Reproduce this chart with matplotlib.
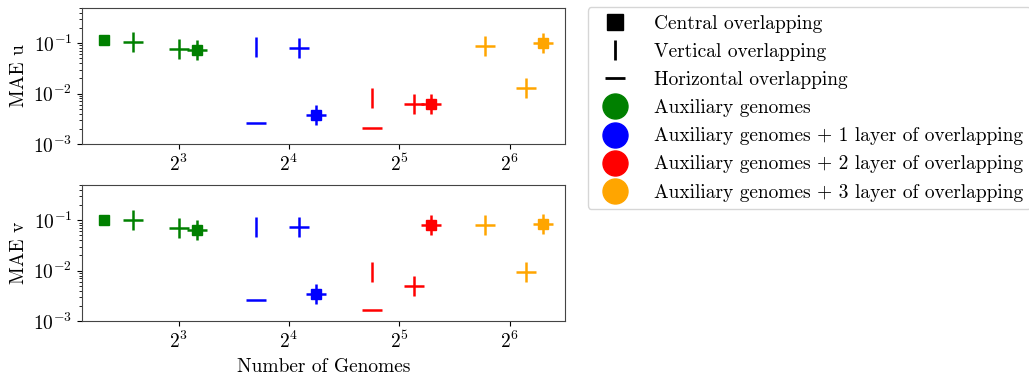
import matplotlib
matplotlib.use("Agg")
import matplotlib.pyplot as plt
from matplotlib.lines import Line2D

plt.rcParams["font.family"] = "serif"
plt.rcParams["font.serif"] = ["cmr10"]
plt.rcParams["mathtext.fontset"] = "cm"
plt.rcParams["axes.formatter.use_mathtext"] = True
plt.rcParams["axes.unicode_minus"] = False

# genome counts and errors, per group (colour) and overlapping type
green_central_x = [5, 9]
green_central_u = [0.113, 0.0716]
green_central_v = [0.103, 0.0653]
green_overlap_x = [6, 8, 9]
green_vert_u = [0.106, 0.075, 0.0716]
green_vert_v = [0.103, 0.0705, 0.0653]
green_horiz_u = [0.106, 0.075, 0.0716]
green_horiz_v = [0.103, 0.0705, 0.0653]

blue_central_x = [19]
blue_central_u = [0.0037]
blue_central_v = [0.00352]
blue_overlap_x = [13, 17, 19]
blue_vert_u = [0.082, 0.0796, 0.0037]
blue_vert_v = [0.0748, 0.073, 0.00352]
blue_horiz_u = [0.0026, 0.0796, 0.0037]
blue_horiz_v = [0.0026, 0.073, 0.00352]

red_central_x = [39]
red_central_u = [0.0062]
red_central_v = [0.0807]
red_overlap_x = [27, 35, 39]
red_vert_u = [0.0082, 0.0062, 0.0062]
red_vert_v = [0.0095, 0.005, 0.0807]
red_horiz_u = [0.00204, 0.0062, 0.0062]
red_horiz_v = [0.00168, 0.005, 0.0807]

orange_central_x = [79]
orange_central_u = [0.1]
orange_central_v = [0.086]
orange_overlap_x = [55, 71, 79]
orange_vert_u = [0.088, 0.0127, 0.1]
orange_vert_v = [0.081, 0.0094, 0.086]
orange_horiz_u = [0.088, 0.0127, 0.1]
orange_horiz_v = [0.081, 0.0094, 0.086]

groups = [
    ("green", green_central_x, green_central_u, green_central_v, green_overlap_x,
     green_vert_u, green_vert_v, green_horiz_u, green_horiz_v),
    ("blue", blue_central_x, blue_central_u, blue_central_v, blue_overlap_x,
     blue_vert_u, blue_vert_v, blue_horiz_u, blue_horiz_v),
    ("red", red_central_x, red_central_u, red_central_v, red_overlap_x,
     red_vert_u, red_vert_v, red_horiz_u, red_horiz_v),
    ("orange", orange_central_x, orange_central_u, orange_central_v, orange_overlap_x,
     orange_vert_u, orange_vert_v, orange_horiz_u, orange_horiz_v),
]
group_labels = [
    "Auxiliary genomes",
    "Auxiliary genomes + 1 layer of overlapping",
    "Auxiliary genomes + 2 layer of overlapping",
    "Auxiliary genomes + 3 layer of overlapping",
]

fig = plt.figure(figsize=(10.29, 3.76), dpi=100)
ax_u = fig.add_axes([0.0797, 0.617, 0.4694, 0.362])
ax_v = fig.add_axes([0.0797, 0.146, 0.4694, 0.362])

for ax, comp in [(ax_u, 0), (ax_v, 1)]:
    for g in groups:
        color, cx, cu, cv, ox, vu, vv, hu, hv = g
        vert = [vu, vv][comp]
        horiz = [hu, hv][comp]
        central = [cu, cv][comp]
        ax.plot(ox, vert, linestyle="None", marker="|", color=color,
                markersize=15, markeredgewidth=1.8)
        ax.plot(ox, horiz, linestyle="None", marker="_", color=color,
                markersize=15, markeredgewidth=1.8)
        ax.plot(cx, central, linestyle="None", marker="s", color=color,
                markersize=6.5, zorder=3)
    ax.set_xscale("log", base=2)
    ax.set_yscale("log")
    ax.set_ylim(1e-3, 0.5)
    ax.tick_params(labelsize=14)
    for sp in ax.spines.values():
        sp.set_color("#444444")

ax_u.set_ylabel("MAE u", fontsize=14)
ax_v.set_ylabel("MAE v", fontsize=14)
ax_v.set_xlabel("Number of Genomes", fontsize=14)

handles = [
    Line2D([], [], linestyle="None", marker="s", color="black", markersize=11),
    Line2D([], [], linestyle="None", marker="|", color="black", markersize=15,
           markeredgewidth=2),
    Line2D([], [], linestyle="None", marker="_", color="black", markersize=15,
           markeredgewidth=2),
]
handles += [Line2D([], [], linestyle="None", marker="o", color=g[0], markersize=18)
            for g in groups]
labels = ["Central overlapping", "Vertical overlapping",
          "Horizontal overlapping"] + group_labels
fig.legend(handles, labels, loc="upper left", bbox_to_anchor=(0.571, 0.981),
           borderaxespad=0, fontsize=14, handletextpad=1.0, labelspacing=0.52)

fig.savefig("out.png", dpi=100)
